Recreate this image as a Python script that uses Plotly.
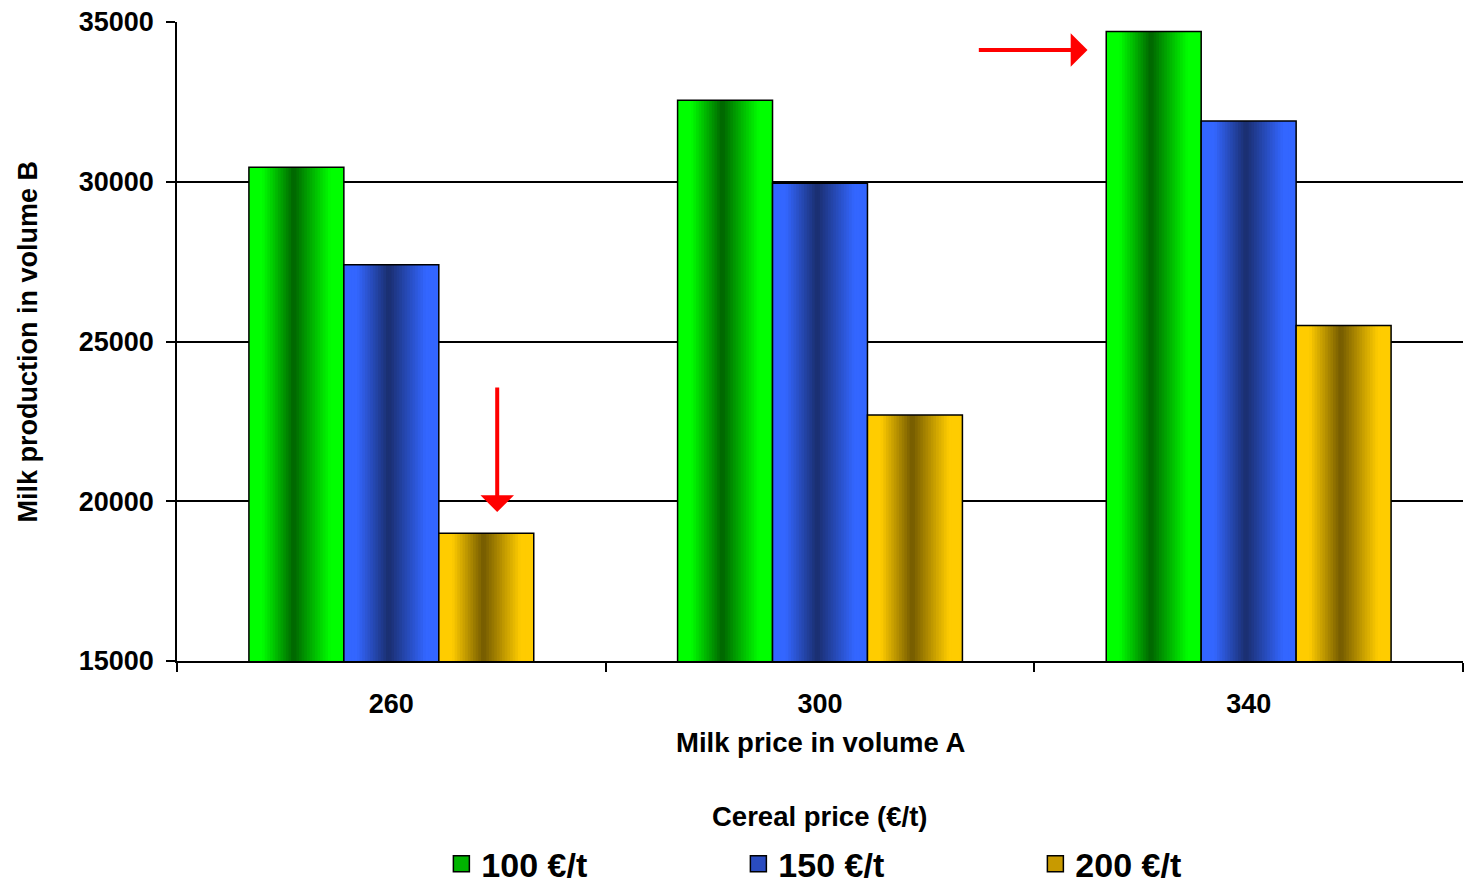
import plotly.graph_objects as go

# Milk price in volume A (x categories) and cereal price series
milk_price_a = ["260", "300", "340"]
series_names = ["100 €/t", "150 €/t", "200 €/t"]
prod_100 = [30450, 32550, 34700]
prod_150 = [27400, 29950, 31900]
prod_200 = [19000, 22700, 25500]
y_ticks = [15000, 20000, 25000, 30000, 35000]

series_values = [prod_100, prod_150, prod_200]
# (light edge colour, dark centre colour, legend swatch colour)
palettes = [
    ((0, 255, 0), (0, 100, 0), "#00b400"),
    ((51, 102, 255), (26, 46, 110), "#2a4cc0"),
    ((255, 204, 0), (115, 90, 0), "#c89a00"),
]

FONT = "Liberation Sans, Arial, sans-serif"
bar_w = 0.2215
group_left = -1.5 * bar_w
n_strips = 36


def shade(light, dark, t):
    # cylinder-like profile: light plateau, dark core slightly left of centre
    if t < 0.14:
        f = 0.0
    elif t < 0.47:
        f = (t - 0.14) / 0.33
    elif t < 0.86:
        f = 1 - (t - 0.47) / 0.39
    else:
        f = 0.0
    c = [round(l + (d - l) * f) for l, d in zip(light, dark)]
    return f"rgb({c[0]},{c[1]},{c[2]})"


fig = go.Figure()
strip_w = bar_w / n_strips
for i, (vals, (light, dark, swatch)) in enumerate(zip(series_values, palettes)):
    left = group_left + i * bar_w
    for k in range(n_strips):
        t = (k + 0.5) / n_strips
        w = strip_w * (1.6 if k < n_strips - 1 else 1.0)
        fig.add_trace(go.Bar(
            x=milk_price_a, y=vals, width=w, offset=left + k * strip_w,
            marker=dict(color=shade(light, dark, t), line=dict(width=0)),
            showlegend=False, hoverinfo="skip",
        ))
    # bar outline
    fig.add_trace(go.Bar(
        x=milk_price_a, y=vals, width=bar_w, offset=left,
        marker=dict(color="rgba(0,0,0,0)", line=dict(color="black", width=1.5)),
        showlegend=False, name=series_names[i],
    ))
    # legend entry
    fig.add_trace(go.Scatter(
        x=[None], y=[None], mode="markers", name=series_names[i],
        marker=dict(symbol="square", size=16, color=swatch,
                    line=dict(color="black", width=1.5)),
    ))

fig.update_layout(
    width=1466, height=886,
    margin=dict(l=177, r=3, t=22, b=225, autoexpand=False),
    paper_bgcolor="white", plot_bgcolor="white",
    barmode="overlay",
    font=dict(family=FONT, color="black", size=27, weight=700),
    showlegend=True,
    legend=dict(
        orientation="h", x=0.552, xanchor="center", y=-0.318, yanchor="middle",
        font=dict(size=34, family=FONT, weight=700),
        entrywidth=252, entrywidthmode="pixels",
        itemsizing="trace",
    ),
    xaxis=dict(
        type="category", showline=True, linecolor="black", linewidth=1.5,
        ticks="outside", tickson="boundaries", ticklen=9, tickwidth=1.5,
        tickcolor="black", showgrid=False, ticklabelstandoff=18,
        tickfont=dict(size=27, family=FONT, weight=700),
    ),
    yaxis=dict(
        range=[15000, 35000], tickvals=y_ticks, tickformat="d", showline=True,
        linecolor="black", linewidth=1.5, ticks="outside", ticklen=9,
        tickwidth=1.5, tickcolor="black", showgrid=True, gridcolor="black",
        gridwidth=1.5, zeroline=False, ticklabelstandoff=7,
        tickfont=dict(size=27, family=FONT, weight=700),
    ),
    annotations=[
        dict(text="Milk price in volume A", xref="paper", yref="paper",
             x=0.5, y=-0.1268, xanchor="center", yanchor="middle",
             showarrow=False, font=dict(size=27.5, family=FONT, weight=700)),
        dict(text="Milk production in volume B", xref="paper", yref="paper",
             x=-0.1159, y=0.5, xanchor="center", yanchor="middle",
             textangle=-90, showarrow=False,
             font=dict(size=27, family=FONT, weight=700)),
        dict(text="Cereal price (€/t)", xref="paper", yref="paper",
             x=0.5, y=-0.244, xanchor="center", yanchor="middle",
             showarrow=False, font=dict(size=27.5, family=FONT, weight=700)),
        # red arrows highlighting the lowest and highest production
        dict(text="", x=0.247, y=19664, ax=0.247, ay=23607,
             xref="x", yref="y", axref="x", ayref="y",
             showarrow=True, arrowhead=1, arrowsize=1.4, arrowwidth=4,
             arrowcolor="red"),
        dict(text="", x=1.624, y=34124, ax=1.367, ay=34124,
             xref="x", yref="y", axref="x", ayref="y",
             showarrow=True, arrowhead=1, arrowsize=1.4, arrowwidth=4,
             arrowcolor="red"),
    ],
)

fig.write_html("out.html")
